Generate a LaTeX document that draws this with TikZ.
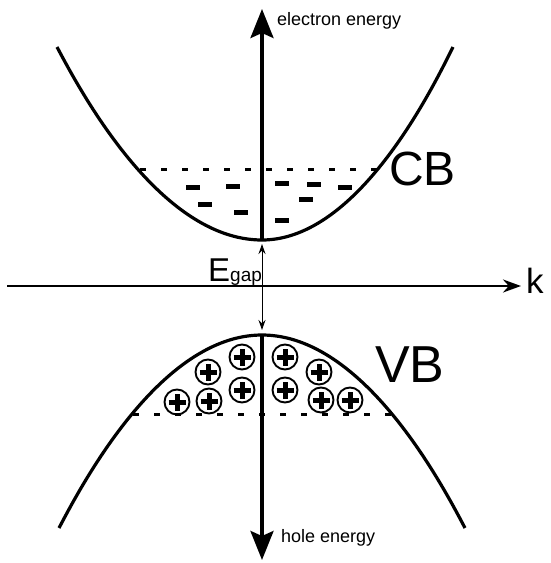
\documentclass[tikz,border=0pt]{standalone}
\usepackage{fontspec}
\setmainfont{Liberation Sans}
\usetikzlibrary{arrows.meta}

\begin{document}
\begin{tikzpicture}[x=1pt, y=-1pt, every node/.style={inner sep=0pt, anchor=base west},
    band/.style={line width=3.2pt},
    axis/.style={line width=3.4pt, -{Stealth[length=29pt,width=23pt,inset=5pt]}},
    level/.style={line width=3pt, dash pattern=on 6pt off 15pt},
    hole/.style={circle, draw, line width=1.9pt, minimum size=25pt},
    plus/.style={line width=5pt}]
    \useasboundingbox (0,0) rectangle (551,563);
    \coordinate (cbmin) at (262,240);
    \coordinate (vbmax) at (262,335);
    \coordinate (etop) at (262,9);
    \coordinate (hbot) at (262,560);
    \coordinate (kleft) at (7,286);
    \coordinate (kright) at (521,286);
    % bands
    \draw[band] (57,47) parabola bend (cbmin) (453,47);
    \draw[band] (59,528) parabola bend (vbmax) (465,528);
    \draw[level] (140,169) -- (380,169);
    \draw[level] (133,414) -- (392,414);
    % axes
    \draw[axis] (cbmin) -- (etop);
    \draw[axis] (vbmax) -- (hbot);
    \draw[line width=2.5pt, -{Stealth[length=18pt,width=13pt]}] (kleft) -- (kright);
    \draw[line width=1pt, {Stealth[length=10pt,width=7pt]}-{Stealth[length=10pt,width=7pt]},
      shorten <=4pt, shorten >=5pt] (cbmin) -- (vbmax);
    % electrons
    \foreach \x/\y in {193/187, 233/186, 205/204, 241/212, 282/183, 314/184, 345/187, 306/199, 282/220}
      \fill (\x-7,\y-2.5) rectangle (\x+7,\y+2.5);
    % holes
    \foreach \x/\y [count=\i] in {177/402, 208/372, 209/401, 242/357, 242/390, 285/357, 285/390, 319/372, 321/400, 350/400} {
      \node[hole, anchor=center] (h\i) at (\x,\y) {};
      \draw[plus] ([xshift=-8.5pt]h\i.center) -- ([xshift=8.5pt]h\i.center)
        ([yshift=-8.5pt]h\i.center) -- ([yshift=8.5pt]h\i.center);
    }
    % labels
    \node[font=\fontsize{18}{20}\selectfont] (elabel) at (277,25) {electron energy};
    \node[font=\fontsize{18}{20}\selectfont] (hlabel) at (281,542) {hole energy};
    \node[font=\fontsize{48}{50}\selectfont] (cb) at (389,185) {CB};
    \node[font=\fontsize{52}{54}\selectfont] (vb) at (375,382) {VB};
    \node[font=\fontsize{35}{38}\selectfont] (k) at (526,293) {k};
    \node (egap) at (208,281) {{\fontsize{33}{34}\selectfont E}{\fontsize{19}{20}\selectfont gap}};
\end{tikzpicture}
\end{document}
